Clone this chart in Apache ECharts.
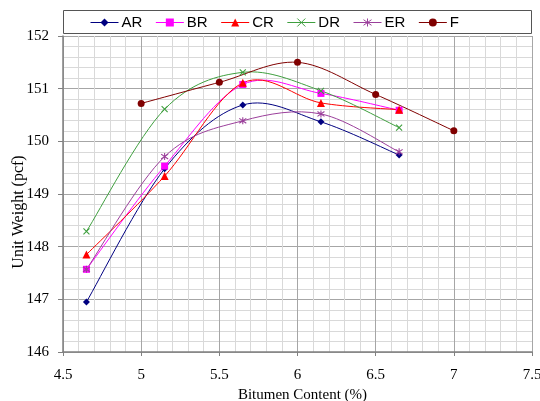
<!DOCTYPE html>
<html>
<head>
    <meta charset="utf-8">
    <title>Unit Weight vs Bitumen Content</title>
    <script src="https://cdn.jsdelivr.net/npm/echarts@6/dist/echarts.min.js"></script>
    <style>
        html, body { margin: 0; padding: 0; background: #fff; }
        #chart { width: 540px; height: 401px; }
    </style>
</head>
<body>
<div id="chart"></div>
<script type="text/javascript">
    // bitumen content (%) for each mix
    var xR = [4.65, 5.15, 5.65, 6.15, 6.65];
    var xF = [5.0, 5.5, 6.0, 6.5, 7.0];

    // unit weight (pcf)
    var AR = [146.95, 149.48, 150.69, 150.37, 149.74];
    var BR = [147.57, 149.53, 151.08, 150.91, 150.59];
    var CR = [147.85, 149.34, 151.11, 150.73, 150.60];
    var DR = [148.29, 150.61, 151.31, 150.96, 150.26];
    var ER = [147.57, 149.71, 150.39, 150.52, 149.80];
    var F  = [150.72, 151.12, 151.50, 150.89, 150.20];

    var names = ['AR', 'BR', 'CR', 'DR', 'ER', 'F'];

    var xMark = 'path://M0,0L10,10M10,0L0,10';
    var star = 'path://M5,0L5,10M1.5,1.5L8.5,8.5M8.5,1.5L1.5,8.5';

    function pairs(xs, ys) {
        return xs.map(function (x, i) { return [x, ys[i]]; });
    }

    // excel-style smoothed curve: one bezier per segment, control points in pixel space
    function curveSeries(xs, ys, color) {
        var pts = pairs(xs, ys);
        return {
            type: 'custom',
            silent: true,
            data: pts,
            encode: { x: 0, y: 1 },
            renderItem: function (params, api) {
                var i = params.dataIndex;
                if (i >= pts.length - 1) return;
                var at = function (k) {
                    k = Math.max(0, Math.min(pts.length - 1, k));
                    return api.coord(pts[k]);
                };
                var p0 = at(i - 1), p1 = at(i), p2 = at(i + 1), p3 = at(i + 2);
                return {
                    type: 'bezierCurve',
                    shape: {
                        x1: p1[0], y1: p1[1], x2: p2[0], y2: p2[1],
                        cpx1: p1[0] + (p2[0] - p0[0]) / 6,
                        cpy1: p1[1] + (p2[1] - p0[1]) / 6,
                        cpx2: p2[0] - (p3[0] - p1[0]) / 6,
                        cpy2: p2[1] - (p3[1] - p1[1]) / 6
                    },
                    style: { stroke: color, fill: null, lineWidth: 1 }
                };
            }
        };
    }

    function markerSeries(name, xs, ys, color, symbol, size, stroke) {
        return {
            name: name,
            type: 'line',
            data: pairs(xs, ys),
            symbol: symbol,
            symbolSize: size,
            lineStyle: { color: color, width: 1, opacity: 0 },
            itemStyle: stroke
                ? { color: 'rgba(0,0,0,0)', borderColor: color, borderWidth: 1.1 }
                : { color: color },
            emphasis: { disabled: true },
            z: 3
        };
    }

    var myChart = echarts.init(document.getElementById('chart'));

    myChart.setOption({
        animation: false,
        textStyle: { fontFamily: 'Liberation Serif' },
        graphic: [
            {
                type: 'rect',
                shape: { x: 63.5, y: 10.5, width: 468, height: 23 },
                style: { fill: '#fff', stroke: '#555', lineWidth: 1 },
                z: 0
            },
            {
                type: 'text',
                x: 19,
                y: 212,
                rotation: Math.PI / 2,
                style: {
                    text: 'Unit Weight (pcf)',
                    font: '16px "Liberation Serif"',
                    fill: '#000',
                    align: 'center',
                    verticalAlign: 'middle'
                }
            }
        ],
        legend: {
            data: [
                { name: 'AR' },
                { name: 'BR' },
                { name: 'CR' },
                { name: 'DR', itemStyle: { borderWidth: 1 } },
                { name: 'ER', itemStyle: { borderWidth: 1 } },
                { name: 'F' }
            ],
            left: 90,
            top: 15,
            padding: 0,
            itemWidth: 28,
            itemHeight: 10,
            itemGap: 13,
            z: 10,
            lineStyle: { opacity: 1, width: 1 },
            textStyle: {
                fontFamily: 'Liberation Sans',
                fontSize: 15,
                color: '#000',
                width: 33,
                padding: [0, 0, 0, -2]
            }
        },
        grid: { left: 63, right: 8, top: 36, bottom: 49, outerBoundsMode: 'none', containLabel: false },
        xAxis: {
            type: 'value',
            min: 4.5,
            max: 7.5,
            interval: 0.5,
            name: 'Bitumen Content (%)',
            nameLocation: 'middle',
            nameGap: 30,
            nameTextStyle: { fontSize: 15, color: '#000', fontFamily: 'Liberation Serif', padding: [0, 0, 0, 10] },
            axisLine: { onZero: false, lineStyle: { color: '#808080', width: 1.5 } },
            axisTick: { show: true, length: 4, lineStyle: { color: '#808080' } },
            axisLabel: { fontSize: 15, color: '#000', margin: 16, fontFamily: 'Liberation Serif' },
            splitLine: { show: true, lineStyle: { color: '#a6a6a6', width: 1 } },
            minorTick: { show: false, splitNumber: 5 },
            minorSplitLine: { show: true, lineStyle: { color: '#d9d9d9', width: 1 } }
        },
        yAxis: {
            type: 'value',
            min: 146,
            max: 152,
            interval: 1,
            axisLine: { show: true, onZero: false, lineStyle: { color: '#808080', width: 1.5 } },
            axisTick: { show: true, length: 5, lineStyle: { color: '#808080' } },
            axisLabel: { fontSize: 15, color: '#000', margin: 14, fontFamily: 'Liberation Serif' },
            splitLine: { show: true, lineStyle: { color: '#a6a6a6', width: 1 } },
            minorTick: { show: false, splitNumber: 5 },
            minorSplitLine: { show: true, lineStyle: { color: '#d9d9d9', width: 1 } }
        },
        series: [
            curveSeries(xR, AR, '#000080'),
            curveSeries(xR, BR, '#ff00ff'),
            curveSeries(xR, CR, '#ff0000'),
            curveSeries(xR, DR, '#3f9f3f'),
            curveSeries(xR, ER, '#9b3f9b'),
            curveSeries(xF, F, '#800000'),
            markerSeries('AR', xR, AR, '#000080', 'diamond', 7, false),
            markerSeries('BR', xR, BR, '#ff00ff', 'rect', 7, false),
            markerSeries('CR', xR, CR, '#ff0000', 'triangle', 8, false),
            markerSeries('DR', xR, DR, '#3f9f3f', xMark, 6, true),
            markerSeries('ER', xR, ER, '#9b3f9b', star, 7, true),
            markerSeries('F', xF, F, '#800000', 'circle', 7, false)
        ]
    });
</script>
</body>
</html>
